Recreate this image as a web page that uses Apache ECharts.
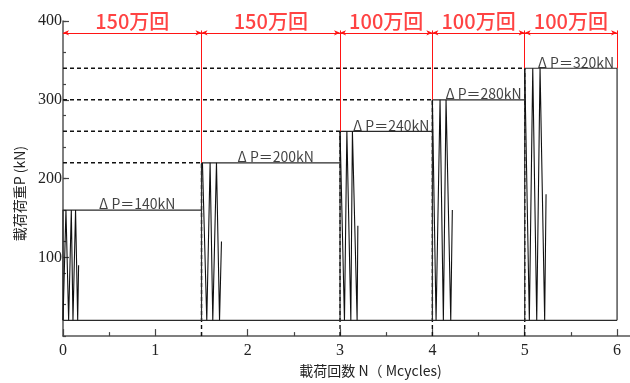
<!DOCTYPE html>
<html>
<head>
<meta charset="utf-8">
<script src="https://cdn.jsdelivr.net/npm/echarts@6/dist/echarts.min.js"></script>
<style>
  html, body { margin: 0; padding: 0; background: #fff; }
  #chart { width: 630px; height: 383px; }
</style>
</head>
<body>
<div id="chart"></div>
<script>
// Step loading test: minimum load and load ranges of each block
const pMin = 20;
const deltaP = [140, 200, 240, 280, 320];
// Block limits along the cycle axis (million cycles)
const blockStart = [0, 1.5, 3, 4, 5];
const blockEnd = [1.5, 3, 4, 5, 6];
const cycleLabels = ['150万回', '150万回', '100万回', '100万回', '100万回'];
// Sketched load cycles at the start of each block: [N, P]
const cycleTrace1 = [[0.000, 20], [0.032, 160], [0.061, 20], [0.090, 160], [0.108, 20], [0.136, 160], [0.159, 20], [0.169, 90]];
const cycleTrace2 = [[1.510, 220], [1.557, 20], [1.593, 220], [1.622, 20], [1.662, 220], [1.695, 20], [1.716, 120]];
const cycleTrace3 = [[3.000, 260], [3.048, 20], [3.074, 260], [3.117, 20], [3.134, 260], [3.185, 20], [3.193, 140]];
const cycleTrace4 = [[4.000, 300], [4.040, 20], [4.083, 300], [4.119, 20], [4.148, 300], [4.199, 20], [4.216, 160]];
const cycleTrace5 = [[5.000, 340], [5.050, 20], [5.087, 340], [5.130, 20], [5.166, 340], [5.216, 20], [5.231, 180]];
const cycleTraces = [cycleTrace1, cycleTrace2, cycleTrace3, cycleTrace4, cycleTrace5];
// Axis ticks and labels
const xTickValues = [0, 1, 2, 3, 4, 5, 6];
const xMinorTickValues = [0.5, 1.5, 2.5, 3.5, 4.5, 5.5];
const yTickValues = [100, 200, 300, 400];
const yMinorTickValues = [0, 40, 80, 120, 160, 200, 240, 280, 320, 360, 400];
const annotationLevel = 385;
const annotationTop = 388;

const pMax = deltaP.map(d => pMin + d);
const nEnd = blockEnd[blockEnd.length - 1];

const RED = '#ff1414';
const INK = '#111';
const SERIF = '"Liberation Serif", "DejaVu Serif", serif';
const CJK = '"Noto Sans CJK JP", "Noto Sans", sans-serif';

const series = [];
const lineBase = { type: 'line', xAxisIndex: 0, yAxisIndex: 0, symbol: 'none', silent: true, animation: false, z: 3 };

// Dashed guide lines to each new load level
pMax.forEach((p, i) => {
  if (i === 0) return;
  series.push(Object.assign({}, lineBase, {
    data: [[0, p], [blockStart[i], p]],
    lineStyle: { color: INK, width: 1.4, type: [4, 3] }
  }));
  series.push(Object.assign({}, lineBase, {
    data: [[blockStart[i], 0], [blockStart[i], p]],
    lineStyle: { color: INK, width: 1.4, type: [4, 3] }
  }));
});

// Load envelope of each block
pMax.forEach((p, i) => {
  const pts = [[blockStart[i], pMin], [blockStart[i], p], [blockEnd[i], p]];
  if (i === pMax.length - 1) pts.push([blockEnd[i], pMin]);
  series.push(Object.assign({}, lineBase, {
    data: pts,
    lineStyle: { color: '#2a2a2a', width: 1.2 }
  }));
});
series.push(Object.assign({}, lineBase, {
  data: [[0, pMin], [nEnd, pMin]],
  lineStyle: { color: '#2a2a2a', width: 1.2 }
}));

// Cyclic load traces
cycleTraces.forEach(tr => {
  series.push(Object.assign({}, lineBase, {
    data: tr,
    lineStyle: { color: INK, width: 1.1 }
  }));
});

// Red span markers with cycle counts
const redVerticals = blockEnd.map((x, i) => {
  const p = i + 1 < pMax.length ? pMax[i + 1] : pMax[i];
  return [{ coord: [x, p] }, { coord: [x, annotationTop] }];
});
const redSpans = blockStart.map((x, i) => [
  { coord: [x, annotationLevel] }, { coord: [blockEnd[i], annotationLevel] }
]);
series.push(Object.assign({}, lineBase, {
  data: [],
  markLine: {
    silent: true, animation: false, symbol: ['none', 'none'],
    label: { show: false },
    lineStyle: { color: RED, width: 1, type: 'solid' },
    data: redVerticals
  }
}));
series.push(Object.assign({}, lineBase, {
  data: [],
  markLine: {
    silent: true, animation: false, symbol: ['arrow', 'arrow'], symbolSize: [4, 6],
    label: { show: false },
    lineStyle: { color: RED, width: 1, type: 'solid' },
    data: redSpans
  }
}));
series.push({
  type: 'scatter', silent: true, animation: false, symbolSize: 0, z: 5,
  data: blockStart.map((x, i) => ({ value: [(x + blockEnd[i]) / 2, 400], name: cycleLabels[i] })),
  label: {
    show: true, position: 'inside', formatter: p => p.name,
    color: RED, fontSize: 20, fontWeight: 500, fontFamily: CJK
  }
});

// Load range labels above each block
series.push({
  type: 'scatter', silent: true, animation: false, symbolSize: 0, z: 5,
  data: pMax.map((p, i) => ({ value: [(blockStart[i] + blockEnd[i]) / 2, p], name: 'Δ P＝' + deltaP[i] + 'kN' })),
  label: {
    show: true, position: 'top', distance: 0, offset: [5, 1], formatter: p => p.name,
    color: '#111', fontSize: 14, fontFamily: CJK
  }
});

const chart = echarts.init(document.getElementById('chart'), null, { renderer: 'canvas' });
chart.setOption({
  animation: false,
  backgroundColor: '#fff',
  grid: { left: 63, right: 0, top: 21, bottom: 44, containLabel: false },
  xAxis: [
    {
      type: 'value', min: 0, max: 6.14,
      axisLine: { show: true, lineStyle: { color: '#555', width: 1.5 } },
      axisTick: { show: true, inside: true, length: 7, customValues: xTickValues, lineStyle: { color: '#444', width: 1.2 } },
      axisLabel: { show: true, customValues: xTickValues, margin: 7, color: '#222', fontSize: 16, fontFamily: SERIF },
      splitLine: { show: false },
      name: '載荷回数 N（ Mcycles)',
      nameLocation: 'middle', nameGap: 26,
      nameTextStyle: { color: '#222', fontSize: 14, fontFamily: CJK, padding: [0, 0, 0, 48] }
    },
    {
      type: 'value', min: 0, max: 6.14, position: 'bottom',
      axisLine: { show: false },
      axisTick: { show: true, inside: true, length: 4, customValues: xMinorTickValues, lineStyle: { color: '#444', width: 1.2 } },
      axisLabel: { show: false },
      splitLine: { show: false }
    }
  ],
  yAxis: [
    {
      type: 'value', min: 0, max: 400,
      axisLine: { show: true, lineStyle: { color: '#555', width: 1.5 } },
      axisTick: { show: true, inside: true, length: 6, customValues: yTickValues, lineStyle: { color: '#444', width: 1.2 } },
      axisLabel: { show: true, customValues: yTickValues, margin: 1, color: '#222', fontSize: 16, fontFamily: SERIF },
      splitLine: { show: false },
      name: '載荷荷重P (kN)',
      nameLocation: 'middle', nameGap: 36, nameRotate: 90,
      nameTextStyle: { color: '#222', fontSize: 14, fontFamily: CJK, padding: [0, 30, 0, 0] }
    },
    {
      type: 'value', min: 0, max: 400, position: 'left',
      axisLine: { show: false },
      axisTick: { show: true, inside: true, length: 3, customValues: yMinorTickValues, lineStyle: { color: '#444', width: 1.2 } },
      axisLabel: { show: false },
      splitLine: { show: false }
    }
  ],
  series: series
});
</script>
</body>
</html>
